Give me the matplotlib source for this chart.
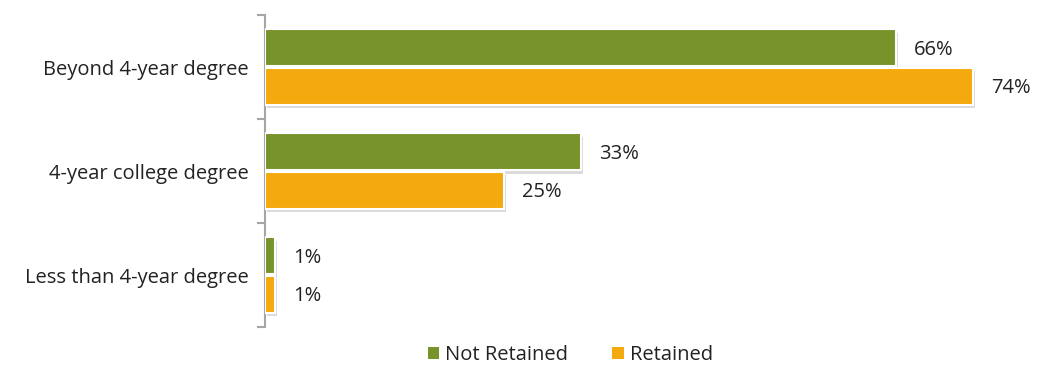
import numpy as np
import matplotlib
matplotlib.use("Agg")
import matplotlib.pyplot as plt
import matplotlib.patheffects as pe

categories = ["Beyond 4-year degree", "4-year college degree", "Less than 4-year degree"]
not_retained = [66, 33, 1]
retained = [74, 25, 1]
series_names = ["Not Retained", "Retained"]
colors = ["#78932a", "#f4a90f"]

plt.rcParams["font.family"] = ["Open Sans", "DejaVu Sans"]

fig = plt.figure(figsize=(10.37, 3.67), dpi=100)
ax = fig.add_axes([265 / 1037, 40 / 367, (1030 - 265) / 1037, 312 / 367])

y = np.arange(len(categories))
h = 0.36
shadow = [pe.SimplePatchShadow(offset=(1.5, -2.5), shadow_rgbFace="#888888", alpha=0.3), pe.Normal()]

for vals, off, col, name in zip([not_retained, retained], [-0.185, 0.185], colors, series_names):
    bars = ax.barh(y + off, vals, height=h, color=col, edgecolor="white", linewidth=1.5,
                   label=name, zorder=3)
    for b in bars:
        b.set_path_effects(shadow)
    for yy, v in zip(y + off, vals):
        ax.text(v + 1.9, yy + 0.02, f"{v}%", va="center", ha="left", fontsize=14.5, color="#222222")

ax.set_xlim(0, 80)
ax.set_ylim(2.5, -0.5)
ax.set_xticks([])
ax.set_yticks(y)
ax.set_yticklabels(categories, fontsize=14.5, color="#222222")
ax.set_yticks([-0.5, 0.5, 1.5, 2.5], minor=True)
ax.tick_params(axis="y", which="major", length=0, pad=12)
ax.tick_params(axis="y", which="minor", length=6, width=1.5, color="#a6a6a6", direction="out")

for s in ["top", "right", "bottom"]:
    ax.spines[s].set_visible(False)
ax.spines["left"].set_color("#a6a6a6")
ax.spines["left"].set_linewidth(1.5)

leg = fig.legend(loc="lower center", bbox_to_anchor=(0.55, -0.045), ncol=2, frameon=False,
                 fontsize=14.5, handlelength=0.55, handleheight=0.55, handletextpad=0.3,
                 columnspacing=2.2)
for t in leg.get_texts():
    t.set_color("#222222")
for hd in leg.legend_handles:
    hd.set_path_effects([])
    hd.set_edgecolor("none")

fig.savefig("out.png", dpi=100)
